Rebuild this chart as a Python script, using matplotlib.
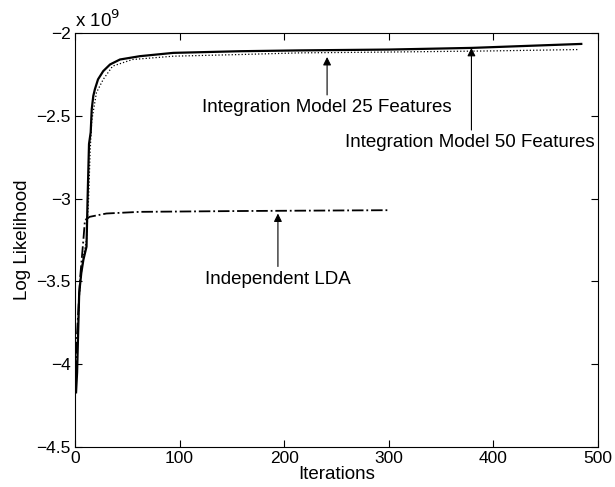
import matplotlib
matplotlib.use('Agg')
import numpy as np
from matplotlib import pyplot as plt

plt.rcParams['font.family'] = ['Liberation Sans', 'DejaVu Sans']

# log likelihood in units of 1e9
it_50 = [1, 2, 4, 6, 8, 11, 12, 13.4, 15, 16, 17.5, 19, 22, 27, 33.5, 43, 62, 94, 158, 215, 300, 379, 484]
ll_50 = [-4.17, -4.05, -3.57, -3.45, -3.37, -3.29, -3.01, -2.67, -2.60, -2.46, -2.38, -2.34, -2.28, -2.23,
         -2.19, -2.16, -2.14, -2.12, -2.11, -2.105, -2.10, -2.09, -2.066]

it_25 = [1, 2, 4, 6, 8, 11, 13, 14.5, 16, 20.5, 27, 36, 55, 94, 158, 215, 300, 400, 481]
ll_25 = [-4.1, -3.95, -3.6, -3.45, -3.35, -3.25, -3.0, -2.71, -2.53, -2.36, -2.28, -2.20, -2.16, -2.14,
         -2.13, -2.12, -2.115, -2.108, -2.10]

it_lda = [1, 2, 5, 8, 9.5, 14, 30, 62, 158, 300]
ll_lda = [-4.05, -3.81, -3.47, -3.25, -3.13, -3.11, -3.09, -3.08, -3.075, -3.07]

fs = 13.5

fig = plt.figure(figsize=(6.15, 4.87), dpi=100)
ax = fig.add_axes([75/615, 1 - 447/487, (598-75)/615, (447-33)/487])

ax.plot(it_50, ll_50, 'k-', lw=1.6)
ax.plot(it_25, ll_25, color='k', ls=':', lw=0.9)
ax.plot(it_lda, ll_lda, 'k-.', lw=1.3)

ax.set_xlim(0, 500)
ax.set_ylim(-4.5, -2)
ax.set_xticks([0, 100, 200, 300, 400, 500])
ax.set_yticks([-4.5, -4, -3.5, -3, -2.5, -2])
ax.set_yticklabels(['\u22124.5', '\u22124', '\u22123.5', '\u22123', '\u22122.5', '\u22122'])
ax.tick_params(direction='in', top=True, right=True, labelsize=12.5, length=5, pad=3)
ax.set_xlabel('Iterations', fontsize=fs, labelpad=0)
ax.set_ylabel('Log Likelihood', fontsize=fs, labelpad=4)
ax.text(0.0, 1.005, 'x 10$^{9}$', transform=ax.transAxes, fontsize=fs, va='bottom', ha='left')

arrow = dict(arrowstyle='-|>', color='k', lw=0.8, mutation_scale=12, shrinkA=0, shrinkB=0)
ax.annotate('', xy=(241, -2.145), xytext=(241, -2.374), arrowprops=arrow)
ax.text(241, -2.447, 'Integration Model 25 Features', ha='center', va='center', fontsize=fs)
ax.annotate('', xy=(379, -2.09), xytext=(379, -2.586), arrowprops=arrow)
ax.text(377.5, -2.664, 'Integration Model 50 Features', ha='center', va='center', fontsize=fs)
ax.annotate('', xy=(194, -3.09), xytext=(194, -3.41), arrowprops=arrow)
ax.text(194, -3.49, 'Independent LDA', ha='center', va='center', fontsize=fs)

fig.savefig('out.png', dpi=100)
